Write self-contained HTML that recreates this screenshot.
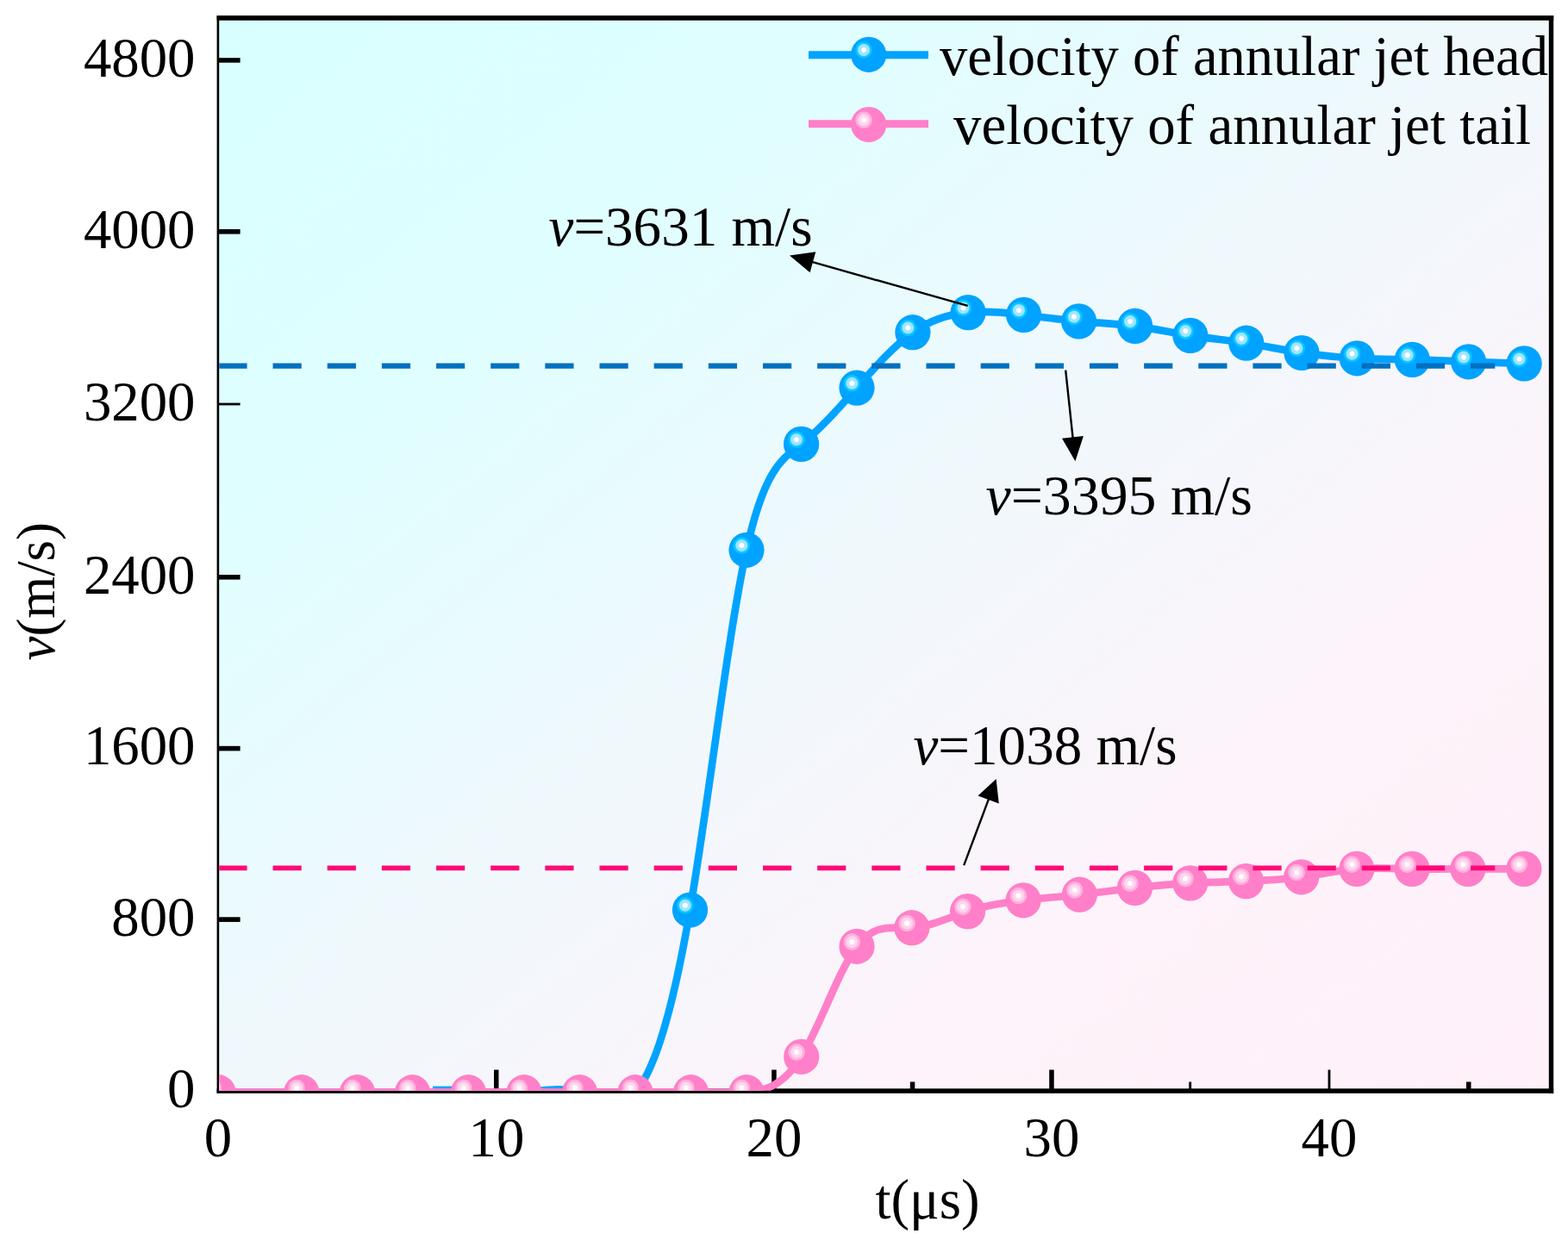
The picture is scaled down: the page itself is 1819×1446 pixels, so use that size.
<!DOCTYPE html>
<html lang="en"><head><meta charset="utf-8"><title>Velocity of annular jet</title>
<style>
html,body{margin:0;padding:0;background:#fff;}
body{width:1819px;height:1446px;overflow:hidden;}
svg{display:block;font-family:"Liberation Serif","Times New Roman",serif;font-size:64.8px;fill:#000;}
.i{font-style:italic}
</style></head><body>
<svg width="1819" height="1446" viewBox="0 0 1819 1446">
<defs>
<linearGradient id="bg" gradientUnits="userSpaceOnUse" x1="418.4" y1="-112.1" x2="1634.6" y2="1399.1">
<stop offset="0" stop-color="#d8ffff"/><stop offset="0.25" stop-color="#e0feff"/><stop offset="0.5" stop-color="#f0f8fc"/><stop offset="0.75" stop-color="#fef3fa"/><stop offset="1" stop-color="#fff0f9"/>
</linearGradient>
<radialGradient id="gb" gradientUnits="objectBoundingBox" cx="0.363" cy="0.372" r="0.245">
<stop offset="0" stop-color="#ffffff"/><stop offset="0.24" stop-color="#f4fcff"/><stop offset="0.36" stop-color="#a4e5ff"/><stop offset="0.64" stop-color="#9ce2ff"/><stop offset="0.74" stop-color="#10caff"/><stop offset="0.93" stop-color="#00c4ff"/><stop offset="1" stop-color="#00a3ff"/>
</radialGradient>
<radialGradient id="gp" gradientUnits="objectBoundingBox" cx="0.363" cy="0.372" r="0.245">
<stop offset="0" stop-color="#ffffff"/><stop offset="0.24" stop-color="#fffafd"/><stop offset="0.36" stop-color="#ffd8ee"/><stop offset="0.64" stop-color="#ffd2ec"/><stop offset="0.74" stop-color="#ffb2de"/><stop offset="0.93" stop-color="#ffaedc"/><stop offset="1" stop-color="#ff7fc8"/>
</radialGradient>
<clipPath id="cp"><rect x="254.2" y="23.7" width="1542.8" height="1242.1"/></clipPath>
</defs>
<rect x="0" y="0" width="1819" height="1446" fill="#fff"/>
<rect x="252" y="20" width="1548" height="1247" fill="url(#bg)"/>

<g fill="#000">
<rect x="251.6" y="18" width="2.6" height="1250.8"/>
<rect x="251.6" y="18" width="1550.6" height="5.7"/>
<rect x="1796.8" y="18" width="5.4" height="1250.8"/>
<rect x="251.6" y="1263.3" width="1550.6" height="5.5"/>
<rect x="254" y="67.2" width="24.6" height="5.5"/>
<rect x="254" y="266.0" width="24.6" height="5.6"/>
<rect x="254" y="467.6" width="24.6" height="2.8"/>
<rect x="254" y="667.0" width="24.6" height="5.6"/>
<rect x="254" y="865.8" width="24.6" height="5.6"/>
<rect x="254" y="1064.3" width="24.6" height="5.6"/>
<rect x="573.0" y="1241.5" width="5.5" height="24.0"/>
<rect x="895.2" y="1241.5" width="5.5" height="24.0"/>
<rect x="1055.8" y="1255.5" width="5.5" height="10.0"/>
<rect x="1217.2" y="1241.5" width="5.5" height="24.0"/>
<rect x="1379.3" y="1255.5" width="2.8" height="10.0"/>
<rect x="1540.6" y="1241.5" width="2.8" height="24.0"/>
<rect x="1701.0" y="1255.5" width="5.5" height="10.0"/>
</g>
<g clip-path="url(#cp)">
<path d="M253.0 1267.7 C285.3 1267.7 317.5 1267.7 349.8 1267.7 C371.4 1267.7 392.9 1267.7 414.5 1267.7 C435.8 1267.7 457.2 1267.8 478.5 1267.7 C500.1 1267.6 521.8 1267.2 543.4 1267.7 C564.9 1268.2 586.5 1269.4 608.0 1267.7 C629.5 1266.0 651.0 1261.2 672.5 1267.7 C694.0 1274.2 715.5 1291.8 737.0 1267.7 C758.2 1244.0 779.3 1179.7 800.5 1056.0 C822.3 928.4 844.2 737.5 866.0 638.3 C887.2 542.0 908.4 532.2 929.6 515.4 C951.1 498.4 972.5 474.4 994.0 450.1 C1015.6 425.7 1037.3 401.0 1058.9 385.7 C1080.3 370.6 1101.7 364.5 1123.1 362.6 C1144.6 360.6 1166.1 362.8 1187.6 365.4 C1208.9 368.0 1230.3 371.0 1251.6 372.9 C1273.3 374.8 1295.0 375.6 1316.7 378.4 C1338.1 381.2 1359.5 386.0 1380.9 389.4 C1402.5 392.8 1424.2 394.8 1445.8 398.2 C1467.2 401.5 1488.6 406.2 1510.0 409.5 C1531.4 412.8 1552.8 414.8 1574.2 415.8 C1595.6 416.8 1616.9 416.9 1638.3 417.4 C1660.1 417.9 1681.8 419.0 1703.6 419.8 C1725.1 420.6 1746.6 421.3 1768.1 421.9" fill="none" stroke="#00a3ff" stroke-width="8.7" stroke-linejoin="round"/>
<rect x="502" y="1260.6" width="22.5" height="4" fill="#00a3ff"/>
<line x1="253" y1="1267.7" x2="884" y2="1267.7" stroke="#ff7fc8" stroke-width="8.7"/>
<path d="M253.0 1267.7 C285.3 1267.7 317.5 1267.7 349.8 1267.7 C371.4 1267.7 392.9 1267.7 414.5 1267.7 C435.8 1267.7 457.2 1267.7 478.5 1267.7 C500.1 1267.7 521.8 1267.7 543.4 1267.7 C564.9 1267.7 586.5 1267.7 608.0 1267.7 C629.5 1267.7 651.0 1267.7 672.5 1267.7 C694.0 1267.7 715.5 1267.8 737.0 1267.7 C758.5 1267.6 780.0 1267.2 801.5 1267.7 C823.0 1268.2 844.5 1269.6 866.0 1267.7 C887.2 1265.8 908.5 1260.8 929.7 1226.3 C951.1 1191.5 972.6 1126.6 994.0 1098.3 C1015.3 1070.2 1036.5 1078.0 1057.8 1076.7 C1079.4 1075.4 1101.0 1064.6 1122.6 1057.6 C1144.1 1050.6 1165.6 1047.3 1187.1 1044.8 C1208.9 1042.3 1230.6 1040.6 1252.4 1038.2 C1273.8 1035.9 1295.1 1032.9 1316.5 1030.4 C1337.9 1027.9 1359.3 1026.0 1380.7 1024.9 C1402.3 1023.7 1423.9 1023.4 1445.5 1022.6 C1466.9 1021.8 1488.3 1020.7 1509.7 1017.8 C1531.1 1014.9 1552.5 1010.1 1573.9 1008.4 C1595.3 1006.7 1616.7 1007.9 1638.1 1008.4 C1659.7 1008.9 1681.3 1008.5 1702.9 1008.4 C1724.6 1008.3 1746.2 1008.3 1767.9 1008.4" fill="none" stroke="#ff7fc8" stroke-width="8.7" stroke-linejoin="round"/>
<circle cx="800.5" cy="1056.0" r="20.6" fill="url(#gb)"/>
<circle cx="866.0" cy="638.3" r="20.6" fill="url(#gb)"/>
<circle cx="929.6" cy="515.4" r="20.6" fill="url(#gb)"/>
<circle cx="994.0" cy="450.1" r="20.6" fill="url(#gb)"/>
<circle cx="1058.9" cy="385.7" r="20.6" fill="url(#gb)"/>
<circle cx="1123.1" cy="362.6" r="20.6" fill="url(#gb)"/>
<circle cx="1187.6" cy="365.4" r="20.6" fill="url(#gb)"/>
<circle cx="1251.6" cy="372.9" r="20.6" fill="url(#gb)"/>
<circle cx="1316.7" cy="378.4" r="20.6" fill="url(#gb)"/>
<circle cx="1380.9" cy="389.4" r="20.6" fill="url(#gb)"/>
<circle cx="1445.8" cy="398.2" r="20.6" fill="url(#gb)"/>
<circle cx="1510.0" cy="409.5" r="20.6" fill="url(#gb)"/>
<circle cx="1574.2" cy="415.8" r="20.6" fill="url(#gb)"/>
<circle cx="1638.3" cy="417.4" r="20.6" fill="url(#gb)"/>
<circle cx="1703.6" cy="419.8" r="20.6" fill="url(#gb)"/>
<circle cx="1768.1" cy="421.9" r="20.6" fill="url(#gb)"/>
<circle cx="253.0" cy="1267.7" r="20.6" fill="url(#gp)"/>
<circle cx="349.8" cy="1267.7" r="20.6" fill="url(#gp)"/>
<circle cx="414.5" cy="1267.7" r="20.6" fill="url(#gp)"/>
<circle cx="478.5" cy="1267.7" r="20.6" fill="url(#gp)"/>
<circle cx="543.4" cy="1267.7" r="20.6" fill="url(#gp)"/>
<circle cx="608.0" cy="1267.7" r="20.6" fill="url(#gp)"/>
<circle cx="672.5" cy="1267.7" r="20.6" fill="url(#gp)"/>
<circle cx="737.0" cy="1267.7" r="20.6" fill="url(#gp)"/>
<circle cx="801.5" cy="1267.7" r="20.6" fill="url(#gp)"/>
<circle cx="866.0" cy="1267.7" r="20.6" fill="url(#gp)"/>
<circle cx="929.7" cy="1226.3" r="20.6" fill="url(#gp)"/>
<circle cx="994.0" cy="1098.3" r="20.6" fill="url(#gp)"/>
<circle cx="1057.8" cy="1076.7" r="20.6" fill="url(#gp)"/>
<circle cx="1122.6" cy="1057.6" r="20.6" fill="url(#gp)"/>
<circle cx="1187.1" cy="1044.8" r="20.6" fill="url(#gp)"/>
<circle cx="1252.4" cy="1038.2" r="20.6" fill="url(#gp)"/>
<circle cx="1316.5" cy="1030.4" r="20.6" fill="url(#gp)"/>
<circle cx="1380.7" cy="1024.9" r="20.6" fill="url(#gp)"/>
<circle cx="1445.5" cy="1022.6" r="20.6" fill="url(#gp)"/>
<circle cx="1509.7" cy="1017.8" r="20.6" fill="url(#gp)"/>
<circle cx="1573.9" cy="1008.4" r="20.6" fill="url(#gp)"/>
<circle cx="1638.1" cy="1008.4" r="20.6" fill="url(#gp)"/>
<circle cx="1702.9" cy="1008.4" r="20.6" fill="url(#gp)"/>
<circle cx="1767.9" cy="1008.4" r="20.6" fill="url(#gp)"/>
<line x1="253.4" y1="424.7" x2="1734.3" y2="424.7" stroke="#0070c0" stroke-width="6.2" stroke-dasharray="33.2 29.96"/>
<line x1="253.4" y1="1007.4" x2="1734.3" y2="1007.4" stroke="#ff0a78" stroke-width="5.6" stroke-dasharray="33.2 29.96"/>
</g>
<line x1="938" y1="63.8" x2="1077" y2="63.8" stroke="#00a3ff" stroke-width="9"/>
<circle cx="1007.7" cy="63.3" r="20.6" fill="url(#gb)"/>
<line x1="938" y1="143.8" x2="1077" y2="143.8" stroke="#ff7fc8" stroke-width="9"/>
<circle cx="1007.7" cy="144.5" r="20.6" fill="url(#gp)"/>
<text x="1090" y="87.4" textLength="706" lengthAdjust="spacingAndGlyphs">velocity of annular jet head</text>
<text x="1106" y="167" textLength="670" lengthAdjust="spacingAndGlyphs">velocity of annular jet tail</text>
<line x1="1122.7" y1="354.9" x2="941.0" y2="303.7" stroke="#000" stroke-width="2.4"/>
<polygon points="916.0,296.6 946.3,292.2 939.6,316.2" fill="#000"/>
<line x1="1236.2" y1="429.6" x2="1244.7" y2="509.3" stroke="#000" stroke-width="2.4"/>
<polygon points="1247.4,535.2 1232.0,508.7 1256.9,506.0" fill="#000"/>
<line x1="1118.2" y1="1004.1" x2="1147.4" y2="926.1" stroke="#000" stroke-width="2.4"/>
<polygon points="1155.6,904.1 1158.8,932.5 1134.5,923.4" fill="#000"/>
<text x="636.5" y="284.7" textLength="306" lengthAdjust="spacingAndGlyphs"><tspan class="i">v</tspan>=3631 m/s</text>
<text x="1143.5" y="597" textLength="309.5" lengthAdjust="spacingAndGlyphs"><tspan class="i">v</tspan>=3395 m/s</text>
<text x="1059.5" y="886.8" textLength="306" lengthAdjust="spacingAndGlyphs"><tspan class="i">v</tspan>=1038 m/s</text>
<text x="226.5" y="88.7" text-anchor="end">4800</text>
<text x="226.5" y="287.5" text-anchor="end">4000</text>
<text x="226.5" y="487.7" text-anchor="end">3200</text>
<text x="226.5" y="688.5" text-anchor="end">2400</text>
<text x="226.5" y="887.3" text-anchor="end">1600</text>
<text x="226.5" y="1085.8" text-anchor="end">800</text>
<text x="226.5" y="1284.7" text-anchor="end">0</text>
<text x="253.0" y="1342.2" text-anchor="middle">0</text>
<text x="576.0" y="1342.2" text-anchor="middle">10</text>
<text x="898.0" y="1342.2" text-anchor="middle">20</text>
<text x="1220.0" y="1342.2" text-anchor="middle">30</text>
<text x="1542.0" y="1342.2" text-anchor="middle">40</text>
<text x="1076" y="1413.5" text-anchor="middle">t(μs)</text>
<text transform="translate(62.8,766.5) rotate(-90)" font-size="63.2" textLength="160.5" lengthAdjust="spacingAndGlyphs"><tspan class="i">v</tspan>(m/s)</text>
</svg></body></html>
